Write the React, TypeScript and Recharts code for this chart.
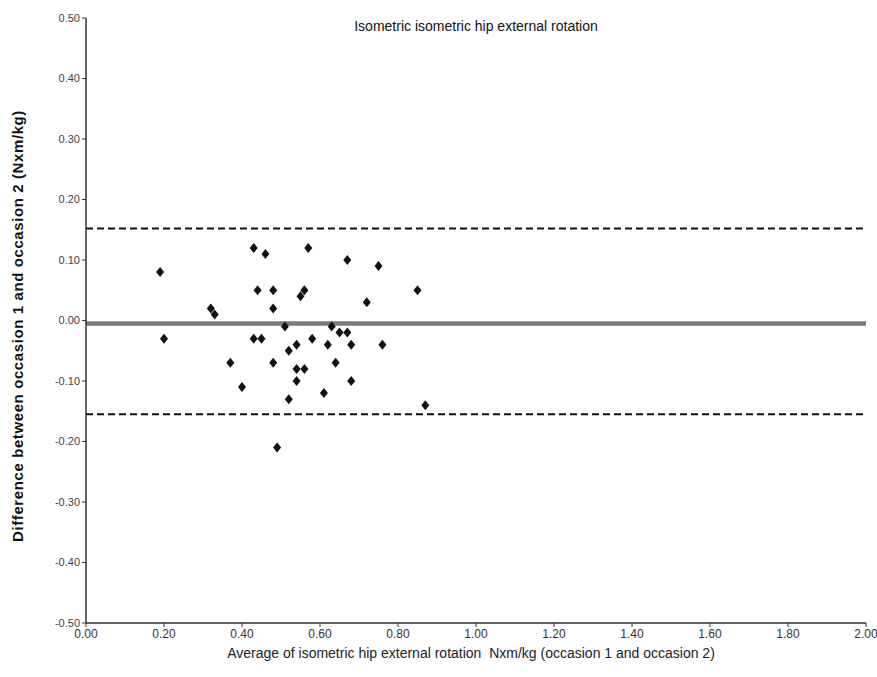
import React from "react";
import { ScatterChart, Scatter, XAxis, YAxis, ReferenceLine } from "recharts";

// average of the two occasions (Nxm/kg)
const averages = [
  0.19, 0.20, 0.32, 0.33, 0.43, 0.46, 0.57, 0.67, 0.75, 0.44,
  0.48, 0.56, 0.55, 0.48, 0.72, 0.85, 0.51, 0.63, 0.43, 0.45,
  0.65, 0.67, 0.54, 0.58, 0.62, 0.68, 0.76, 0.52, 0.37, 0.48,
  0.64, 0.54, 0.56, 0.54, 0.68, 0.40, 0.61, 0.52, 0.49, 0.87,
];

// difference occasion 1 - occasion 2
const differences = [
  0.08, -0.03, 0.02, 0.01, 0.12, 0.11, 0.12, 0.10, 0.09, 0.05,
  0.05, 0.05, 0.04, 0.02, 0.03, 0.05, -0.01, -0.01, -0.03, -0.03,
  -0.02, -0.02, -0.04, -0.03, -0.04, -0.04, -0.04, -0.05, -0.07, -0.07,
  -0.07, -0.08, -0.08, -0.10, -0.10, -0.11, -0.12, -0.13, -0.21, -0.14,
];

const meanDiff = -0.005;
const upperLimit = 0.152;
const lowerLimit = -0.155;

const xTicks = [0, 0.2, 0.4, 0.6, 0.8, 1.0, 1.2, 1.4, 1.6, 1.8, 2.0];
const yTicks = [-0.5, -0.4, -0.3, -0.2, -0.1, 0, 0.1, 0.2, 0.3, 0.4, 0.5];

const points = averages.map((x, i) => ({ x, y: differences[i] }));

const font = "'Liberation Sans Narrow', 'Liberation Sans', Arial, sans-serif";

const Diamond = (props: any) => {
  const { cx, cy } = props;
  return (
    <polygon
      points={`${cx},${cy - 5} ${cx + 4},${cy} ${cx},${cy + 5} ${cx - 4},${cy}`}
      fill="#111"
    />
  );
};

const App: React.FC = () => {
  return (
    <div style={{ position: "absolute", left: 0, top: 0, width: 877, height: 677, background: "#fff" }}>
      <ScatterChart width={877} height={677} margin={{ top: 18, right: 11, bottom: 24, left: 0 }}>
        <XAxis
          type="number"
          dataKey="x"
          domain={[0, 2]}
          ticks={xTicks}
          interval={0}
          height={30}
          tickFormatter={(v: number) => v.toFixed(2)}
          tick={{ fill: "#333", fontSize: 12, fontFamily: font }}
          axisLine={{ stroke: "#333", strokeWidth: 1.5 }}
          tickLine={{ stroke: "#333" }}
          tickSize={4}
        />
        <YAxis
          type="number"
          dataKey="y"
          domain={[-0.5, 0.5]}
          ticks={yTicks}
          interval={0}
          width={86}
          tickFormatter={(v: number) => v.toFixed(2)}
          tick={{ fill: "#444", fontSize: 11, fontFamily: font }}
          axisLine={{ stroke: "#333", strokeWidth: 1.5 }}
          tickLine={{ stroke: "#333" }}
          tickSize={4}
        />
        <ReferenceLine y={upperLimit} stroke="#111" strokeWidth={2} strokeDasharray="7 4" />
        <ReferenceLine y={lowerLimit} stroke="#111" strokeWidth={2} strokeDasharray="7 4" />
        <ReferenceLine y={meanDiff} stroke="#7a7a7a" strokeWidth={4.5} />
        <Scatter data={points} shape={<Diamond />} isAnimationActive={false} />
      </ScatterChart>
      <div
        style={{
          position: "absolute",
          left: 0,
          width: 952,
          top: 18,
          textAlign: "center",
          fontFamily: font,
          fontSize: 14,
          color: "#111",
        }}
      >
        Isometric isometric hip external rotation
      </div>
      <div
        style={{
          position: "absolute",
          left: 76,
          width: 790,
          top: 645,
          textAlign: "center",
          fontFamily: font,
          fontSize: 14,
          color: "#222",
        }}
      >
        Average of isometric hip external rotation&nbsp; Nxm/kg (occasion 1 and occasion 2)
      </div>
      <div
        style={{
          position: "absolute",
          left: 17,
          top: 326,
          width: 560,
          marginLeft: -280,
          textAlign: "center",
          transform: "translateY(-50%) rotate(-90deg)",
          fontFamily: "'Liberation Sans', Arial, sans-serif",
          fontWeight: "bold",
          fontSize: 15,
          letterSpacing: 0.6,
          color: "#111",
        }}
      >
        Difference between occasion 1 and occasion 2 (Nxm/kg)
      </div>
    </div>
  );
};

export default App;
